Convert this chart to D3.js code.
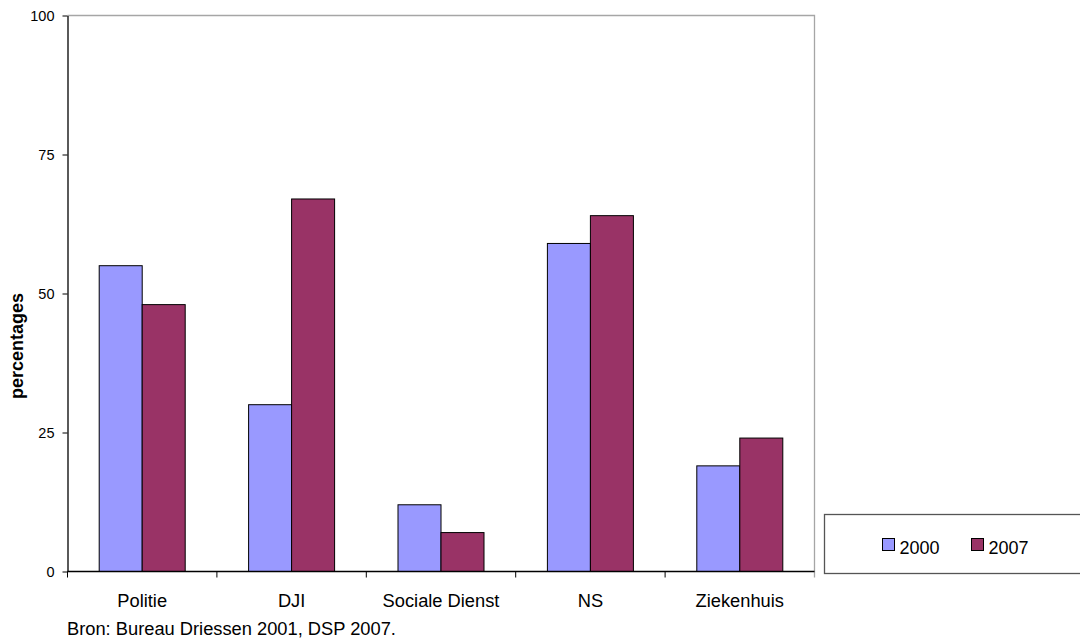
<!DOCTYPE html>
<html>
<head>
<meta charset="utf-8">
<script src="https://cdn.jsdelivr.net/npm/d3@7"></script>
<style>
  body { margin: 0; background: #fff; }
  svg { display: block; font-family: "Liberation Sans", Arial, sans-serif; }
</style>
</head>
<body>
<svg id="chart" width="1080" height="639"></svg>
<script>
// Chart data
const categories = ["Politie", "DJI", "Sociale Dienst", "NS", "Ziekenhuis"];
const seriesNames = ["2000", "2007"];
const values2000 = [55, 30, 12, 59, 19];
const values2007 = [48, 67, 7, 64, 24];
const yTicks = [0, 25, 50, 75, 100];
const sourceNote = "Bron: Bureau Driessen 2001, DSP 2007.";

const colors = { "2000": "#9999FF", "2007": "#993366" };

// Plot area
const plot = { left: 67.5, right: 814.5, top: 15.5, bottom: 571.5 };

const svg = d3.select("#chart");

const xScale = d3.scaleBand()
    .domain(categories)
    .range([plot.left, plot.right])
    .paddingInner(0)
    .paddingOuter(0);

const yScale = d3.scaleLinear()
    .domain([0, 100])
    .range([plot.bottom, plot.top]);

// Inner band for the two bars of each category
const barWidth = 43;
const xSub = d3.scaleBand()
    .domain(seriesNames)
    .range([0, barWidth * 2]);

// Top and right border (grey)
svg.append("path")
    .attr("d", `M${plot.left},${plot.top}H${plot.right}V${plot.bottom + 6}`)
    .attr("fill", "none")
    .attr("stroke", "#a6a6a6")
    .attr("stroke-width", 1.3);

// Bars
const rows = categories.map((c, i) => ({ category: c, "2000": values2000[i], "2007": values2007[i] }));

const groups = svg.append("g").selectAll("g")
    .data(rows)
    .join("g")
    .attr("transform", d => `translate(${xScale(d.category) + (xScale.bandwidth() - barWidth * 2) / 2},0)`);

groups.selectAll("rect")
    .data(d => seriesNames.map(s => ({ key: s, value: d[s] })))
    .join("rect")
    .attr("x", d => xSub(d.key))
    .attr("y", d => yScale(d.value))
    .attr("width", xSub.bandwidth())
    .attr("height", d => yScale(0) - yScale(d.value))
    .attr("fill", d => colors[d.key])
    .attr("stroke", "#000")
    .attr("stroke-width", 1);

// Y axis
const yAxis = svg.append("g")
    .attr("transform", `translate(${plot.left},0)`)
    .call(d3.axisLeft(yScale).tickValues(yTicks).tickSize(5).tickPadding(8).tickSizeOuter(0));
yAxis.select(".domain").attr("stroke", "#000").attr("stroke-width", 1.3);
yAxis.selectAll(".tick line").attr("stroke", "#000");
yAxis.selectAll(".tick text")
    .attr("font-family", "Liberation Sans, Arial, sans-serif")
    .attr("font-size", 14.5)
    .attr("fill", "#000");

// X axis: ticks at category boundaries
const xAxis = svg.append("g")
    .attr("transform", `translate(0,${plot.bottom})`);
xAxis.append("line")
    .attr("x1", plot.left).attr("x2", plot.right)
    .attr("stroke", "#000").attr("stroke-width", 1.3);
const boundaries = categories.map(c => xScale(c));
xAxis.selectAll(".xtick")
    .data(boundaries)
    .join("line")
    .attr("class", "xtick")
    .attr("x1", d => d).attr("x2", d => d)
    .attr("y1", 0).attr("y2", 6)
    .attr("stroke", "#000");
xAxis.selectAll(".xlabel")
    .data(categories)
    .join("text")
    .attr("class", "xlabel")
    .attr("x", d => xScale(d) + xScale.bandwidth() / 2)
    .attr("y", 35)
    .attr("text-anchor", "middle")
    .attr("font-size", 18.3)
    .attr("fill", "#000")
    .text(d => d);

// Y axis title
svg.append("text")
    .attr("transform", "translate(23,346) rotate(-90)")
    .attr("text-anchor", "middle")
    .attr("font-size", 18)
    .attr("font-weight", "bold")
    .attr("fill", "#000")
    .text("percentages");

// Source note
svg.append("text")
    .attr("x", 67)
    .attr("y", 635)
    .attr("font-size", 18.3)
    .attr("fill", "#000")
    .text(sourceNote);

// Legend
const legend = svg.append("g").attr("transform", "translate(824.5,514.5)");
legend.append("rect")
    .attr("width", 270)
    .attr("height", 59)
    .attr("fill", "#fff")
    .attr("stroke", "#555")
    .attr("stroke-width", 1.3);
const legendItems = legend.selectAll(".item")
    .data(seriesNames)
    .join("g")
    .attr("class", "item")
    .attr("transform", (d, i) => `translate(${58 + i * 89},24)`);
legendItems.append("rect")
    .attr("width", 12)
    .attr("height", 12)
    .attr("fill", d => colors[d])
    .attr("stroke", "#000");
legendItems.append("text")
    .attr("x", 17)
    .attr("y", 15)
    .attr("font-size", 18)
    .attr("fill", "#000")
    .text(d => d);
</script>
</body>
</html>
